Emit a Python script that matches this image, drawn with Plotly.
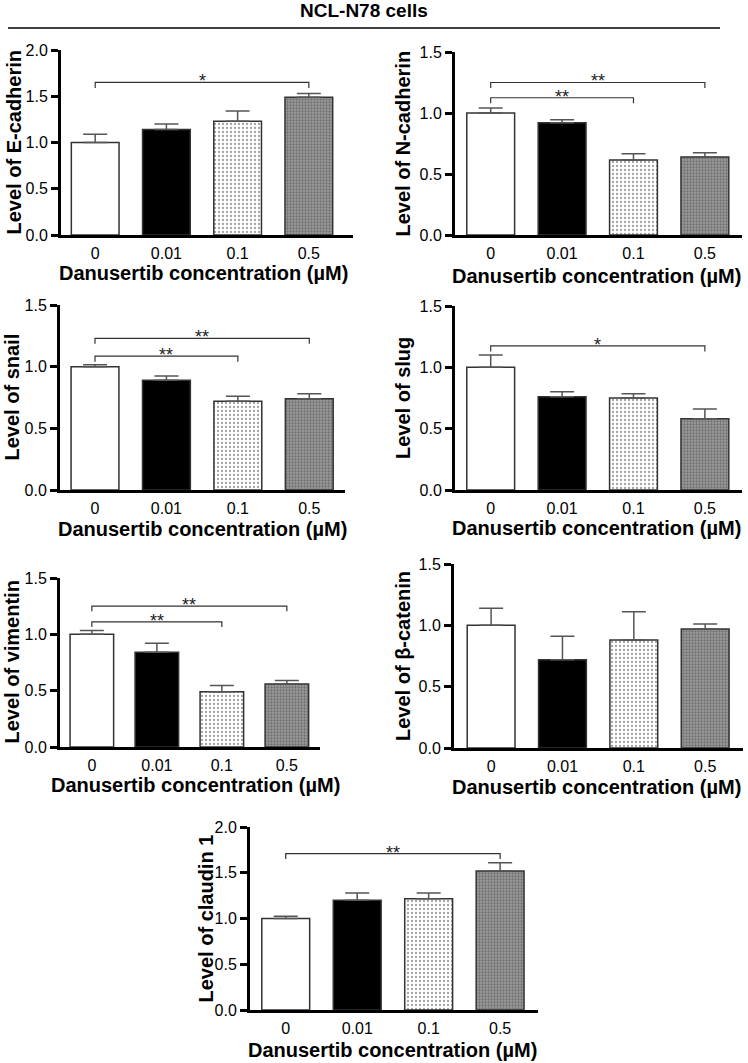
import plotly.graph_objects as go

W, H = 748, 1063


def px_x(p):
    return p / W


def px_y(p):
    return 1 - p / H


categories = ["0", "0.01", "0.1", "0.5"]

ecad_mean = [1.00, 1.14, 1.23, 1.49]
ecad_sem = [0.09, 0.06, 0.11, 0.04]
ncad_mean = [1.00, 0.92, 0.615, 0.64]
ncad_sem = [0.04, 0.025, 0.05, 0.035]
snail_mean = [1.00, 0.89, 0.72, 0.74]
snail_sem = [0.015, 0.035, 0.04, 0.04]
slug_mean = [1.00, 0.76, 0.75, 0.58]
slug_sem = [0.10, 0.04, 0.035, 0.08]
vim_mean = [1.00, 0.84, 0.49, 0.56]
vim_sem = [0.035, 0.08, 0.055, 0.03]
bcat_mean = [1.00, 0.72, 0.88, 0.97]
bcat_sem = [0.14, 0.19, 0.23, 0.04]
cldn_mean = [1.00, 1.20, 1.215, 1.52]
cldn_sem = [0.025, 0.08, 0.065, 0.09]

# significance brackets: (from bar, to bar, height, label)
ecad_sig = [(0, 3, 1.65, "*")]
ncad_sig = [(0, 3, 1.25, "**"), (0, 2, 1.125, "**")]
snail_sig = [(0, 3, 1.23, "**"), (0, 2, 1.085, "**")]
slug_sig = [(0, 3, 1.175, "*")]
vim_sig = [(0, 3, 1.25, "**"), (0, 2, 1.11, "**")]
bcat_sig = []
cldn_sig = [(0, 3, 1.71, "**")]

FONT = "Liberation Sans, Arial, sans-serif"
x_pos = list(range(len(categories)))

# (y label, means, sems, brackets, y top, box px [x0, x1, ytop, ybottom], x range, x-title px [cx, cy], ylabel cx)
panels = [
    ("Level of E-cadherin", ecad_mean, ecad_sem, ecad_sig, 2.0, [61, 353, 50, 235], [-0.48, 3.62], [204, 273], 13),
    ("Level of N-cadherin", ncad_mean, ncad_sem, ncad_sig, 1.5, [455, 742, 52, 235], [-0.5, 3.52], [596, 276], 403),
    ("Level of snail", snail_mean, snail_sem, snail_sig, 1.5, [60, 345, 305, 490], [-0.49, 3.5], [202, 529], 11),
    ("Level of slug", slug_mean, slug_sem, slug_sig, 1.5, [455, 742, 306, 490], [-0.5, 3.52], [596, 528], 403),
    ("Level of vimentin", vim_mean, vim_sem, vim_sig, 1.5, [60, 320, 578, 747], [-0.49, 3.51], [195, 785], 11),
    ("Level of β-catenin", bcat_mean, bcat_sem, bcat_sig, 1.5, [454, 743, 564, 748], [-0.52, 3.53], [596, 787], 403),
    ("Level of claudin 1", cldn_mean, cldn_sem, cldn_sig, 2.0, [250, 538, 827, 1010], [-0.5, 3.53], [392, 1050], 205),
]

bar_colors = ["white", "black", "white", "#9c9c9c"]
pat_shapes = ["", "", ".", "."]
pat_fg = ["#999999", "#999999", "#a8a8a8", "#262626"]
pat_size = [4, 4, 4, 3]
pat_sol = [0.2, 0.2, 0.25, 0.45]

fig = go.Figure()
annotations = []

for k, (ylab, mean, sem, sig, ytop, box, xr, xt, ylx) in enumerate(panels):
    n = "" if k == 0 else str(k + 1)
    xa, ya = "x" + n, "y" + n
    x0, x1, yt, yb = box

    fig.add_trace(go.Bar(
        x=x_pos, y=mean, width=0.67, xaxis=xa, yaxis=ya,
        marker=dict(
            color=bar_colors,
            line=dict(color="#333333", width=1.5),
            pattern=dict(shape=pat_shapes, fgcolor=pat_fg, size=pat_size,
                         solidity=pat_sol, fillmode="overlay"),
        ),
        error_y=dict(type="data", array=sem, arrayminus=[0] * len(sem), symmetric=False,
                     color="#555555", thickness=1.5, width=12),
        showlegend=False, hoverinfo="skip",
    ))

    drop = 0.03 * ytop
    for i, j, h, lab in sig:
        fig.add_trace(go.Scatter(
            x=[x_pos[i], x_pos[i], x_pos[j], x_pos[j]], y=[h - drop, h, h, h - drop],
            mode="lines", line=dict(color="#333333", width=1.2),
            xaxis=xa, yaxis=ya, showlegend=False, hoverinfo="skip",
        ))
        annotations.append(dict(
            x=(x_pos[i] + x_pos[j]) / 2, y=h, xref=xa, yref=ya, text=lab,
            showarrow=False, yanchor="middle", yshift=1,
            font=dict(family=FONT, size=18, color="#222"),
        ))

    fig.layout["xaxis" + n] = dict(
        domain=[px_x(x0), px_x(x1)], anchor=ya, range=xr, automargin=False,
        tickvals=x_pos, ticktext=categories, ticks="", ticklabelstandoff=2,
        showline=True, linewidth=3, linecolor="black", showgrid=False, zeroline=False,
        tickfont=dict(family=FONT, size=16, color="black"), fixedrange=True,
    )
    fig.layout["yaxis" + n] = dict(
        domain=[px_y(yb), px_y(yt)], anchor=xa, range=[0, ytop], automargin=False,
        tickvals=[v * 0.5 for v in range(int(ytop / 0.5) + 1)], tickformat=".1f",
        ticks="outside", ticklen=7, tickwidth=2.5, tickcolor="black",
        showline=True, linewidth=3, linecolor="black", showgrid=False, zeroline=False,
        tickfont=dict(family=FONT, size=16, color="black"), fixedrange=True,
    )

    annotations.append(dict(
        x=px_x(xt[0]), y=px_y(xt[1]), xref="paper", yref="paper",
        text="<b>Danusertib concentration (µM)</b>", showarrow=False,
        xanchor="center", yanchor="middle", font=dict(family=FONT, size=20, color="black"),
    ))
    annotations.append(dict(
        x=px_x(ylx), y=px_y((yt + yb) / 2), xref="paper", yref="paper",
        text="<b>" + ylab + "</b>", showarrow=False, textangle=-90,
        xanchor="center", yanchor="middle", font=dict(family=FONT, size=20, color="black"),
    ))

annotations.append(dict(
    x=px_x(364), y=px_y(11), xref="paper", yref="paper", text="<b>NCL-N78 cells</b>",
    showarrow=False, xanchor="center", yanchor="middle", font=dict(family=FONT, size=19, color="black"),
))

fig.update_layout(
    width=W, height=H, margin=dict(l=0, r=0, t=0, b=0, autoexpand=False),
    paper_bgcolor="white", plot_bgcolor="white",
    annotations=annotations,
    shapes=[dict(type="line", xref="paper", yref="paper", x0=px_x(8), x1=px_x(720),
                 y0=px_y(28), y1=px_y(28), line=dict(color="black", width=1.5))],
)

# drop the default page margin so the figure sits at the window's top-left corner
fig.write_html("out.html", config={"displayModeBar": False},
               post_script="document.body.style.margin='0';")
